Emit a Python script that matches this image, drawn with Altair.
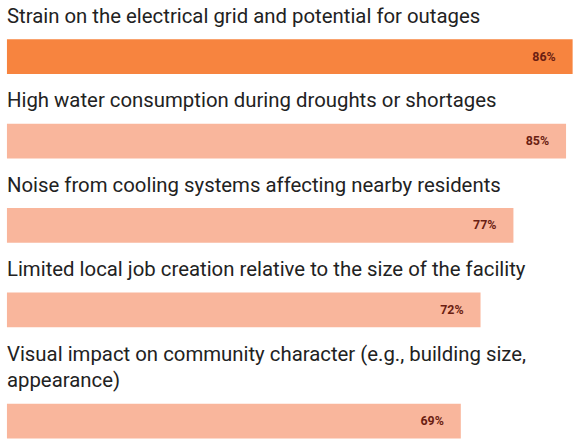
import altair as alt
import pandas as pd

labels = [
    ["Strain on the electrical grid and potential for outages"],
    ["High water consumption during droughts or shortages"],
    ["Noise from cooling systems affecting nearby residents"],
    ["Limited local job creation relative to the size of the facility"],
    ["Visual impact on community character (e.g., building size,", "appearance)"],
]
values = [86, 85, 77, 72, 69]
bar_colors = ["#F7843F", "#F9B69C", "#F9B69C", "#F9B69C", "#F9B69C"]

panels = []
for i, (lab, v, c) in enumerate(zip(labels, values, bar_colors)):
    df = pd.DataFrame({"cat": [str(i)], "value": [v], "pct": [f"{v}%"]})
    base = alt.Chart(df).encode(
        y=alt.Y("cat:N", axis=None, scale=alt.Scale(paddingInner=0, paddingOuter=0)),
        x=alt.X("value:Q", axis=None, scale=alt.Scale(domain=[0, 85])),
    )
    bar = base.mark_bar(color=c, cornerRadius=0)
    txt = base.mark_text(align="right", dx=-17, font="Roboto", fontWeight="bold",
                         fontSize=12.5, color="#6B1E12").encode(text="pct:N")
    panel = alt.layer(bar, txt).properties(
        width=563, height=35,
        title=alt.TitleParams(text=lab, anchor="start", fontSize=20.5, font="Roboto",
                              fontWeight="normal", color="#222222", offset=12,
                              lineHeight=27),
    )
    panels.append(panel)

chart = alt.vconcat(*panels, spacing=17).properties(
    padding={"left": 7, "top": 5, "right": 0, "bottom": 0},
    background="white",
).configure_view(stroke=None)

chart.save("out.html", embed_options={"renderer": "svg", "actions": False})
